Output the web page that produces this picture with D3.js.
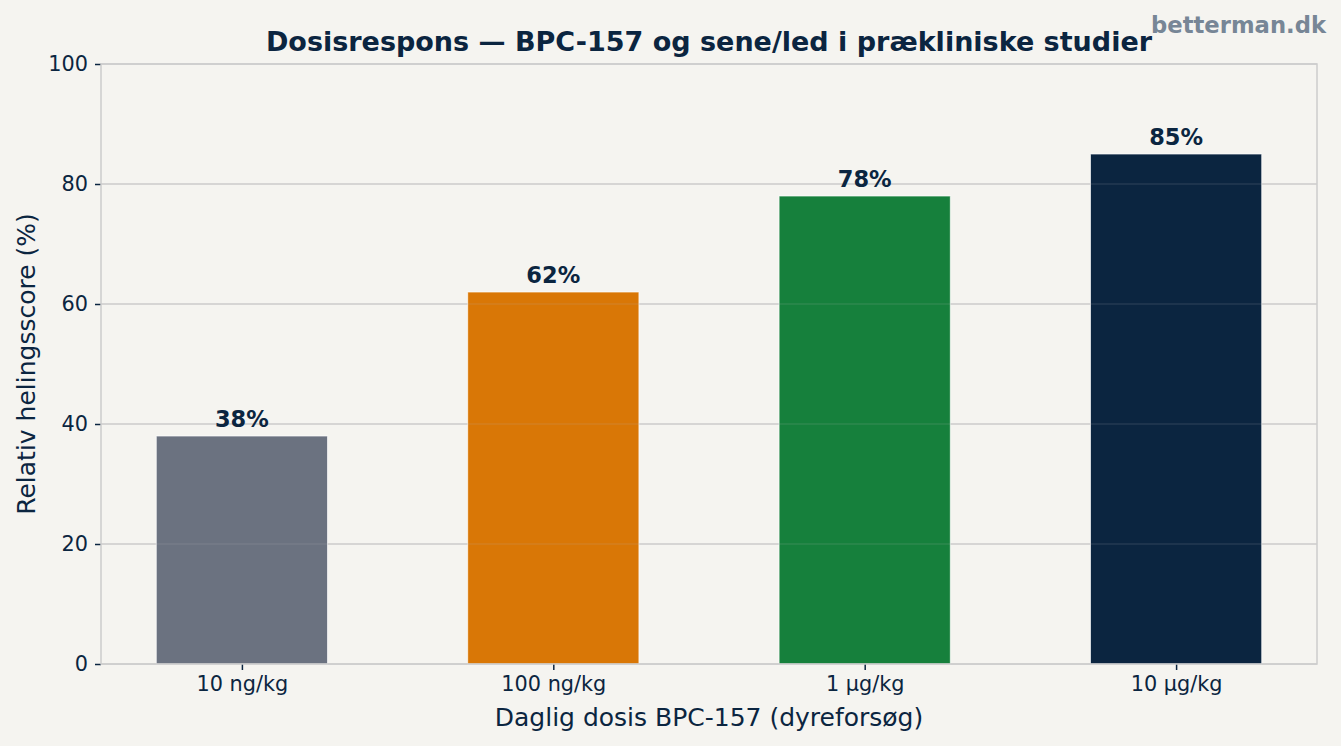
<!DOCTYPE html>
<html>
<head>
<meta charset="utf-8">
<script src="https://cdn.jsdelivr.net/npm/d3@7/dist/d3.min.js"></script>
<style>
  html, body { margin: 0; padding: 0; background: #f5f4f0; }
  svg { display: block; font-family: "DejaVu Sans", sans-serif; }
</style>
</head>
<body>
<svg id="chart" width="1341" height="746"></svg>
<script>
const categories = ["10 ng/kg", "100 ng/kg", "1 µg/kg", "10 µg/kg"];
const values = [38, 62, 78, 85];
const colors = ["#6b7280", "#d97706", "#16803c", "#0b2540"];
const yTicks = [0, 20, 40, 60, 80, 100];
const valueLabels = ["38%", "62%", "78%", "85%"];
const title = "Dosisrespons — BPC-157 og sene/led i prækliniske studier";
const xLabel = "Daglig dosis BPC-157 (dyreforsøg)";
const yLabel = "Relativ helingsscore (%)";
const watermark = "betterman.dk";

const W = 1341, H = 746;
const m = { left: 101, right: 1317, top: 64, bottom: 664 };
const textColor = "#0b2540";
const barWidth = 0.55;

const svg = d3.select("#chart");
svg.append("rect").attr("width", W).attr("height", H).attr("fill", "#f5f4f0");

const pad = 0.05 * (categories.length - 1 + barWidth);
const x = d3.scaleLinear()
  .domain([-barWidth / 2 - pad, categories.length - 1 + barWidth / 2 + pad])
  .range([m.left, m.right]);
const y = d3.scaleLinear().domain([0, 100]).range([m.bottom, m.top]);
const pxPerUnit = x(1) - x(0);

// grid (behind)
svg.append("g").selectAll("line").data(yTicks).join("line")
  .attr("x1", m.left).attr("x2", m.right)
  .attr("y1", d => y(d)).attr("y2", d => y(d))
  .attr("stroke", "#d0d0d0").attr("stroke-width", 1.5);

// bars
svg.append("g").selectAll("rect").data(values).join("rect")
  .attr("x", (d, i) => x(i) - barWidth * pxPerUnit / 2)
  .attr("width", barWidth * pxPerUnit)
  .attr("y", d => y(d))
  .attr("height", d => y(0) - y(d))
  .attr("fill", (d, i) => colors[i])
  .attr("stroke", "#ffffff").attr("stroke-width", 1).attr("stroke-opacity", 0.7);

// faint grid showing through bars
svg.append("g").selectAll("line").data(yTicks.filter(d => d > 0 && d < 100)).join("line")
  .attr("x1", m.left).attr("x2", m.right)
  .attr("y1", d => y(d)).attr("y2", d => y(d))
  .attr("stroke", "#b8b8b8").attr("stroke-opacity", 0.15).attr("stroke-width", 1.5);

// value labels
svg.append("g").selectAll("text").data(values).join("text")
  .attr("x", (d, i) => x(i)).attr("y", d => y(d) - 9)
  .attr("text-anchor", "middle")
  .attr("font-size", 22.5).attr("font-weight", "bold").attr("fill", textColor)
  .text((d, i) => valueLabels[i]);

// axes
const yAxis = d3.axisLeft(y).tickValues(yTicks).tickSize(6).tickPadding(7);
const gy = svg.append("g").attr("transform", `translate(${m.left},0)`).call(yAxis);
const xAxis = d3.axisBottom(x).tickValues(d3.range(categories.length))
  .tickFormat(i => categories[i]).tickSize(6).tickPadding(6);
const gx = svg.append("g").attr("transform", `translate(0,${m.bottom})`).call(xAxis);
[gx, gy].forEach(g => {
  g.select(".domain").remove();
  g.selectAll(".tick line").attr("stroke", textColor).attr("stroke-width", 1.5);
  g.selectAll(".tick text").attr("fill", textColor).attr("font-size", 20.8)
    .attr("font-family", "DejaVu Sans");
});

// spines
svg.append("rect")
  .attr("x", m.left).attr("y", m.top)
  .attr("width", m.right - m.left).attr("height", m.bottom - m.top)
  .attr("fill", "none").attr("stroke", "#cccccc").attr("stroke-width", 1.5);

// titles
svg.append("text").attr("x", (m.left + m.right) / 2).attr("y", 51)
  .attr("text-anchor", "middle").attr("font-size", 27).attr("font-weight", "bold")
  .attr("fill", textColor).text(title);
svg.append("text").attr("x", (m.left + m.right) / 2).attr("y", 726)
  .attr("text-anchor", "middle").attr("font-size", 25)
  .attr("fill", textColor).text(xLabel);
svg.append("text").attr("transform", `translate(35,${(m.top + m.bottom) / 2}) rotate(-90)`)
  .attr("text-anchor", "middle").attr("font-size", 25)
  .attr("fill", textColor).text(yLabel);
svg.append("text").attr("x", 1326).attr("y", 33)
  .attr("text-anchor", "end").attr("font-size", 22.7).attr("font-weight", "bold")
  .attr("fill", "#778696").text(watermark);
</script>
</body>
</html>
